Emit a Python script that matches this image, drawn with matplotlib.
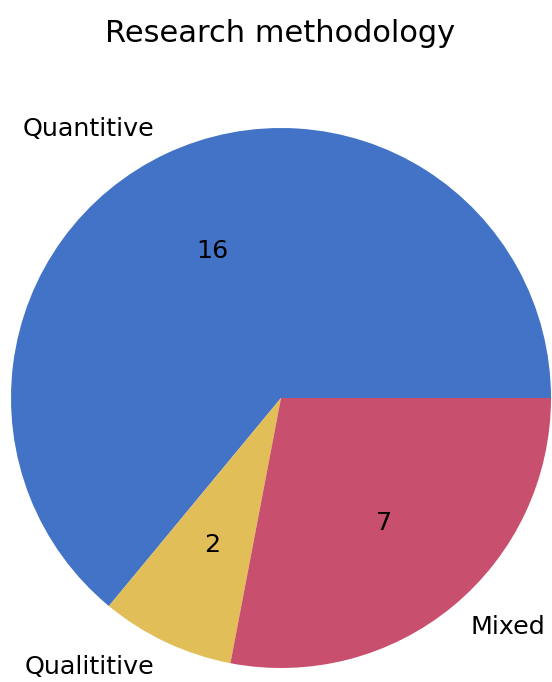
import matplotlib
matplotlib.use("Agg")
import matplotlib.pyplot as plt

labels = ["Quantitive", "Qualititive", "Mixed"]
counts = [16, 2, 7]
colors = ["#4273C6", "#E2BE58", "#C84F6D"]

W, H, DPI = 552, 682, 100
fig = plt.figure(figsize=(W / DPI, H / DPI), dpi=DPI)
ax = fig.add_axes([0, 0, 1, 1])

total = sum(counts)
ax.pie(counts, labels=labels, colors=colors,
       autopct=lambda p: f"{round(p * total / 100):d}",
       textprops={"fontsize": 18.3})

# pie centre and radius in pixels
cx, cy, r = 281, 398, 270
ax.set_xlim((0 - cx) / r, (W - cx) / r)
ax.set_ylim(-(H - cy) / r, cy / r)
ax.set_aspect("auto")
ax.axis("off")

fig.text(280 / W, 1 - 33 / H, "Research methodology", ha="center", va="center",
         fontsize=22)

fig.savefig("out.png", dpi=DPI)
